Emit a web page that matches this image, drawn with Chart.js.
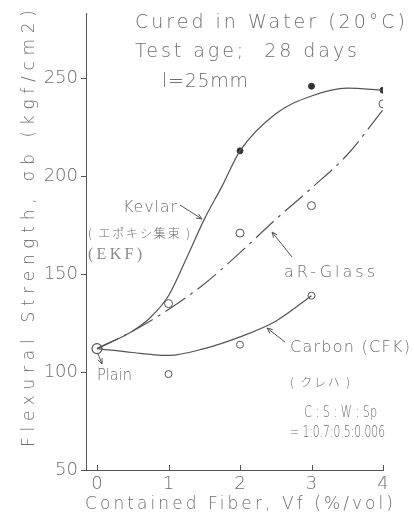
<!DOCTYPE html>
<html>
<head>
<meta charset="utf-8">
<script src="https://cdn.jsdelivr.net/npm/chart.js@4"></script>
<style>
  html, body { margin: 0; padding: 0; background: #fff; }
  #wrap { width: 414px; height: 519px; }
</style>
</head>
<body>
<div id="wrap"><canvas id="flexChart" width="414" height="519"></canvas></div>
<script>
// measured points (Vf %, kgf/cm2)
const plainX = [0];
const plainY = [112];
const kevlarX = [2, 3, 4];
const kevlarY = [213, 246, 244];
const glassX = [1, 2, 3, 4];
const glassY = [135, 171, 185, 237];
const carbonX = [1, 2, 3];
const carbonY = [99, 114, 139];

// hand-drawn fit curves
const kevlarCurveX = [0, 0.5, 0.75, 1, 1.25, 1.5, 1.75, 2, 2.5, 3, 3.5, 4];
const kevlarCurveY = [112, 121, 128, 139, 158, 178, 195, 213, 232, 241, 245, 244];
const glassLineX = [0, 0.5, 1, 1.5, 2, 2.5, 3, 3.5, 4];
const glassLineY = [112, 121, 132, 145, 161, 178, 194, 211, 234];
const carbonCurveX = [0, 0.5, 1, 1.5, 2, 2.5, 3];
const carbonCurveY = [112, 110, 108.5, 112, 118, 126, 139];

const xTicks = [0, 1, 2, 3, 4];
const yTicks = [50, 100, 150, 200, 250];

const ink = "#555";
const textInk = "#6e6e6e";
const thin = "'DejaVu Sans ExtraLight', 'DejaVu Sans', sans-serif";

function pts(xs, ys) {
  return xs.map((x, i) => ({ x: x, y: ys[i] }));
}

// text stretched (or squeezed) to a given width, like the plotter lettering
function spaced(ctx, str, x, y, w, font, color) {
  ctx.save();
  ctx.font = font;
  ctx.letterSpacing = "0px";
  const m = ctx.measureText(str).width;
  let s = str.length > 1 ? (w - m) / (str.length - 1) : 0;
  ctx.fillStyle = color || textInk;
  ctx.textAlign = "left";
  ctx.textBaseline = "middle";
  if (s < 0) {
    ctx.translate(x, y);
    ctx.scale(w / m, 1);
    ctx.fillText(str, 0, 0);
  } else {
    ctx.letterSpacing = s + "px";
    ctx.fillText(str, x, y);
  }
  ctx.restore();
}

function arrow(ctx, x1, y1, x2, y2) {
  const a = Math.atan2(y2 - y1, x2 - x1);
  const h = 6;
  ctx.save();
  ctx.strokeStyle = ink;
  ctx.lineWidth = 1;
  ctx.beginPath();
  ctx.moveTo(x1, y1);
  ctx.lineTo(x2, y2);
  ctx.moveTo(x2 - h * Math.cos(a - 0.4), y2 - h * Math.sin(a - 0.4));
  ctx.lineTo(x2, y2);
  ctx.lineTo(x2 - h * Math.cos(a + 0.4), y2 - h * Math.sin(a + 0.4));
  ctx.stroke();
  ctx.restore();
}

const annotations = {
  id: "annotations",
  afterDraw(chart) {
    const ctx = chart.ctx;
    const xs = chart.scales.x;
    const area = chart.chartArea;

    // inward x ticks
    ctx.save();
    ctx.strokeStyle = ink;
    ctx.lineWidth = 1;
    xTicks.forEach((v) => {
      const px = Math.round(xs.getPixelForValue(v)) + 0.5;
      ctx.beginPath();
      ctx.moveTo(px, area.bottom);
      ctx.lineTo(px, area.bottom - 5);
      ctx.stroke();
    });
    ctx.restore();

    const f = (n) => "200 " + n + "px " + thin;
    const jp = (n) => "300 " + n + "px 'Noto Sans CJK JP', sans-serif";

    spaced(ctx, "Cured in Water (20°C)", 135, 23, 270, f(19));
    spaced(ctx, "Test age;  28 days", 135, 52, 222, f(19));
    spaced(ctx, "l=25mm", 162, 82, 86, f(19));

    spaced(ctx, "Kevlar", 123, 208, 54, f(16));
    spaced(ctx, "( エポキシ集束 )", 88, 233, 102, jp(12));
    spaced(ctx, "(EKF)", 88, 255, 54, "300 16px 'Liberation Serif', serif", "#8a8a8a");
    spaced(ctx, "aR-Glass", 284, 273, 91, f(16));
    spaced(ctx, "Carbon (CFK)", 290, 348, 120, f(16));
    spaced(ctx, "( クレハ )", 290, 382, 60, jp(12));
    spaced(ctx, "C : S : W : Sp", 304, 413, 73, f(15));
    spaced(ctx, "= 1:0.7:0.5:0.006", 290, 433, 95, f(15));
    spaced(ctx, "Plain", 97, 376, 35, f(16));

    arrow(ctx, 180, 205, 202, 219);
    arrow(ctx, 292, 257, 272, 232);
    arrow(ctx, 285, 342, 267, 328);
    arrow(ctx, 98, 354, 102, 364);

    // axis titles
    spaced(ctx, "Contained Fiber, Vf (%/vol)", 85, 505, 308, f(17));
    ctx.save();
    ctx.translate(30, 447);
    ctx.rotate(-Math.PI / 2);
    spaced(ctx, "Flexural Strength, σb (kgf/cm2)", 0, 0, 437, f(17));
    ctx.restore();
  },
};

const lineStyle = {
  showLine: true,
  pointRadius: 0,
  borderColor: ink,
  borderWidth: 1.2,
  fill: false,
  cubicInterpolationMode: "monotone",
};

const tickFont = { family: thin, size: 18, weight: 200 };

const ctx = document.getElementById("flexChart").getContext("2d");
const flexChart = new Chart(ctx, {
  type: "scatter",
  data: {
    datasets: [
      Object.assign({ label: "Kevlar fit", data: pts(kevlarCurveX, kevlarCurveY) }, lineStyle),
      Object.assign({ label: "aR-Glass fit", data: pts(glassLineX, glassLineY) }, lineStyle, {
        borderDash: [24, 6, 3, 6],
      }),
      Object.assign({ label: "Carbon fit", data: pts(carbonCurveX, carbonCurveY) }, lineStyle),
      {
        label: "Kevlar",
        data: pts(kevlarX, kevlarY),
        pointRadius: 3,
        pointBackgroundColor: "#333",
        pointBorderColor: "#333",
      },
      {
        label: "aR-Glass",
        data: pts(glassX, glassY),
        pointRadius: 4,
        pointBackgroundColor: "#fff",
        pointBorderColor: ink,
        pointBorderWidth: 1,
      },
      {
        label: "Carbon",
        data: pts(carbonX, carbonY),
        pointRadius: 3.5,
        pointBackgroundColor: "#fff",
        pointBorderColor: ink,
        pointBorderWidth: 1,
      },
      {
        label: "Plain",
        data: pts(plainX, plainY),
        pointRadius: 5,
        pointBackgroundColor: "#fff",
        pointBorderColor: ink,
        pointBorderWidth: 1.2,
      },
    ],
  },
  options: {
    responsive: false,
    animation: false,
    devicePixelRatio: 1,
    layout: { padding: { top: 10, right: 31, left: 0, bottom: 0 } },
    plugins: {
      legend: { display: false },
      tooltip: { enabled: false },
    },
    scales: {
      x: {
        type: "linear",
        min: -0.154,
        max: 4,
        afterBuildTicks: (s) => { s.ticks = xTicks.map((v) => ({ value: v })); },
        afterFit: (s) => { s.height = 49; },
        grid: { display: true, drawOnChartArea: false, drawTicks: false },
        border: { color: ink, width: 1 },
        ticks: { padding: 4, color: textInk, font: tickFont },
      },
      y: {
        type: "linear",
        min: 50,
        max: 283,
        afterBuildTicks: (s) => { s.ticks = yTicks.map((v) => ({ value: v })); },
        afterFit: (s) => { s.width = 86; },
        grid: { display: true, drawOnChartArea: false, tickLength: 5, color: ink },
        border: { color: ink, width: 1 },
        ticks: { padding: 3, color: textInk, font: tickFont },
      },
    },
  },
  plugins: [annotations],
});
</script>
</body>
</html>
